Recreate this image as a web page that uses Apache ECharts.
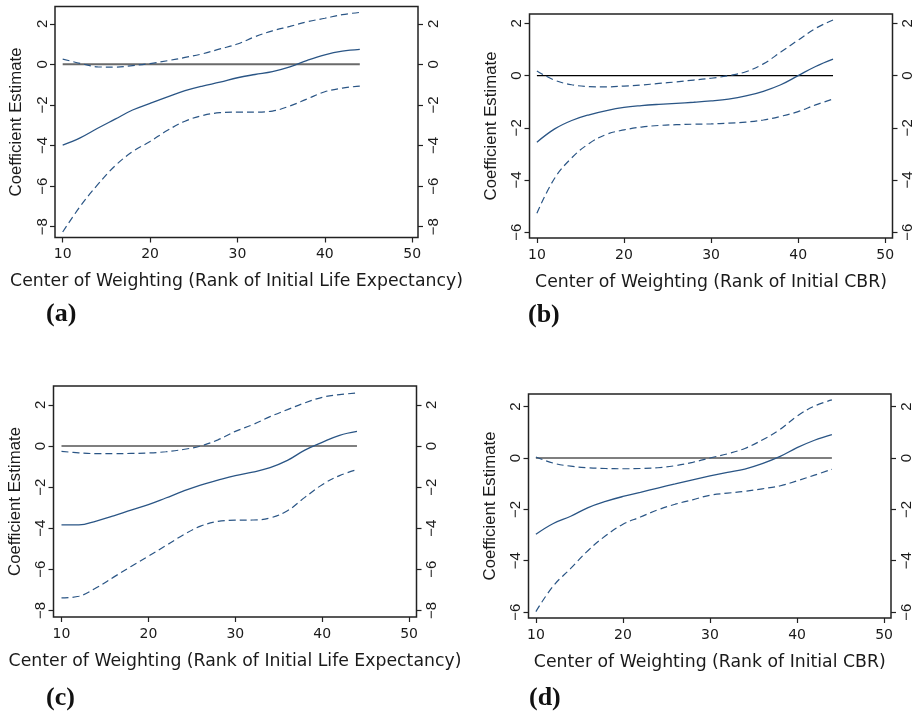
<!DOCTYPE html>
<html><head><meta charset="utf-8">
<script src="https://cdn.jsdelivr.net/npm/echarts@6/dist/echarts.min.js"></script>
<style>html,body{margin:0;padding:0;background:#fff}#c{width:917px;height:714px}</style>
</head><body><div id="c"></div>
<script>
// ---- data ----
const xs = [10,12,14,16,18,20,22,24,26,28,30,32,34,36,38,40,42,44];

const aEst   = [-3.98,-3.62,-3.15,-2.70,-2.25,-1.92,-1.60,-1.30,-1.07,-0.88,-0.66,-0.50,-0.36,-0.13,0.20,0.47,0.65,0.74];
const aUpper = [0.26,0.05,-0.12,-0.14,-0.06,0.04,0.18,0.34,0.52,0.76,1.00,1.36,1.65,1.87,2.10,2.27,2.45,2.56];
const aLower = [-8.26,-7.00,-5.93,-5.00,-4.30,-3.80,-3.25,-2.80,-2.52,-2.38,-2.35,-2.35,-2.30,-2.05,-1.70,-1.35,-1.17,-1.07];

const bEst   = [-2.55,-2.05,-1.72,-1.50,-1.34,-1.22,-1.15,-1.10,-1.06,-1.02,-0.97,-0.90,-0.78,-0.60,-0.35,0.00,0.35,0.63];
const bUpper = [0.18,-0.17,-0.35,-0.42,-0.43,-0.40,-0.36,-0.30,-0.24,-0.17,-0.10,0.00,0.15,0.45,0.90,1.36,1.81,2.13];
const bLower = [-5.27,-3.95,-3.15,-2.60,-2.25,-2.08,-1.97,-1.91,-1.88,-1.86,-1.85,-1.82,-1.78,-1.70,-1.56,-1.38,-1.12,-0.90];

const cEst   = [-3.84,-3.84,-3.65,-3.40,-3.12,-2.85,-2.53,-2.20,-1.90,-1.66,-1.44,-1.27,-1.05,-0.70,-0.20,0.18,0.52,0.71];
const cUpper = [-0.26,-0.33,-0.37,-0.37,-0.36,-0.34,-0.28,-0.17,0.00,0.30,0.71,1.04,1.43,1.77,2.10,2.37,2.50,2.58];
const cLower = [-7.39,-7.31,-6.90,-6.38,-5.86,-5.36,-4.85,-4.33,-3.90,-3.67,-3.61,-3.60,-3.50,-3.15,-2.50,-1.88,-1.44,-1.15];

const dEst   = [-2.97,-2.55,-2.27,-1.93,-1.69,-1.50,-1.34,-1.17,-1.01,-0.85,-0.70,-0.56,-0.43,-0.22,0.05,0.40,0.69,0.91];
const dUpper = [0.04,-0.20,-0.32,-0.38,-0.41,-0.42,-0.41,-0.38,-0.30,-0.17,0.00,0.16,0.37,0.70,1.10,1.63,2.02,2.26];
const dLower = [-5.98,-4.98,-4.30,-3.60,-3.03,-2.58,-2.30,-2.02,-1.80,-1.63,-1.45,-1.37,-1.30,-1.20,-1.09,-0.89,-0.67,-0.44];

const zeroX = [10, 44];
const xTicks = [10,20,30,40,50];
const yTicksLE = [-8,-6,-4,-2,0,2];
const yTicksCBR = [-6,-4,-2,0,2];
const xTitleLE = 'Center of Weighting (Rank of Initial Life Expectancy)';
const xTitleCBR = 'Center of Weighting (Rank of Initial CBR)';
const yTitle = 'Coefficient Estimate';
const panelLabels = ['(a)','(b)','(c)','(d)'];

// ---- layout / style ----
const panels = [
  {est:aEst, up:aUpper, lo:aLower, yTicks:yTicksLE, xTitle:xTitleLE, grid:{left:55, top:6.5, width:363, height:231}, xMin:9.12, xMax:50.66, yMin:-8.53, yMax:2.85, zeroColor:'#6a6a6a', zeroW:2, lab:{x:46,y:301}},
  {est:bEst, up:bUpper, lo:bLower, yTicks:yTicksCBR, xTitle:xTitleCBR, grid:{left:529.5, top:14, width:363, height:224}, xMin:9.15, xMax:50.83, yMin:-6.22, yMax:2.36, zeroColor:'#000', zeroW:1.1, lab:{x:528,y:302}},
  {est:cEst, up:cUpper, lo:cLower, yTicks:yTicksLE, xTitle:xTitleLE, grid:{left:53.5, top:386, width:363, height:231}, xMin:9.08, xMax:50.85, yMin:-8.32, yMax:2.92, zeroColor:'#000', zeroW:1.1, lab:{x:46,y:685}},
  {est:dEst, up:dUpper, lo:dLower, yTicks:yTicksCBR, xTitle:xTitleCBR, grid:{left:528.5, top:394, width:362.5, height:224}, xMin:9.15, xMax:50.79, yMin:-6.23, yMax:2.49, zeroColor:'#000', zeroW:1.1, lab:{x:529,y:685}}
];
const lineColor = '#2a5585';
const txt = '#1a1a1a';
const sans = 'Liberation Sans, Arial, sans-serif';
const wide = 'DejaVu Sans, Verdana, sans-serif';

const grids = [], xAxes = [], yAxes = [], series = [], titles = [];
panels.forEach((p, i) => {
  grids.push(Object.assign({show:true, borderColor:'#222', borderWidth:1.5, backgroundColor:'#fff'}, p.grid));
  xAxes.push({
    type:'value', gridIndex:i, min:p.xMin, max:p.xMax,
    name:p.xTitle, nameLocation:'middle', nameGap:36,
    nameTextStyle:{fontFamily:wide, fontSize:17.3, color:txt},
    axisLine:{show:false, onZero:false}, splitLine:{show:false},
    axisTick:{show:true, length:5, customValues:xTicks, lineStyle:{color:'#222', width:1.2}},
    axisLabel:{customValues:xTicks, margin:10, fontFamily:wide, fontSize:14, color:txt}
  });
  const yBase = {
    type:'value', gridIndex:i, min:p.yMin, max:p.yMax,
    axisLine:{show:false, onZero:false}, splitLine:{show:false},
    axisTick:{show:true, length:5, customValues:p.yTicks, lineStyle:{color:'#222', width:1.2}},
    axisLabel:{customValues:p.yTicks, rotate:90, margin:8, fontFamily:sans, fontSize:15, color:txt,
      formatter: v => (v < 0 ? '\u2212' + Math.abs(v) : String(v))}
  };
  const left = Object.assign({}, yBase, {position:'left', name:yTitle, nameLocation:'middle', nameGap:30, nameRotate:90,
    nameTextStyle:{fontFamily:sans, fontSize:16.8, color:txt}});
  left.axisLabel = Object.assign({}, yBase.axisLabel, {margin:5});
  yAxes.push(left);
  yAxes.push(Object.assign({}, yBase, {position:'right'}));
  const yi = i*2;
  series.push({type:'line', xAxisIndex:i, yAxisIndex:yi, data:zeroX.map(x=>[x,0]), showSymbol:false, silent:true,
    lineStyle:{color:p.zeroColor, width:p.zeroW}, z:2});
  series.push({type:'line', xAxisIndex:i, yAxisIndex:yi, data:xs.map((x,k)=>[x,p.est[k]]), smooth:0.4, showSymbol:false,
    lineStyle:{color:lineColor, width:1.3}, z:3});
  series.push({type:'line', xAxisIndex:i, yAxisIndex:yi, data:xs.map((x,k)=>[x,p.up[k]]), smooth:0.4, showSymbol:false,
    lineStyle:{color:lineColor, width:1.2, type:[7,4]}, z:3});
  series.push({type:'line', xAxisIndex:i, yAxisIndex:yi, data:xs.map((x,k)=>[x,p.lo[k]]), smooth:0.4, showSymbol:false,
    lineStyle:{color:lineColor, width:1.2, type:[7,4]}, z:3});
  titles.push({text:panelLabels[i], left:p.lab.x, top:p.lab.y, padding:0,
    textStyle:{fontFamily:'Liberation Serif, Times New Roman, serif', fontWeight:'bold', fontSize:26, color:'#111'}});
});

const chart = echarts.init(document.getElementById('c'), null, {renderer:'canvas'});
chart.setOption({
  animation:false, backgroundColor:'#fff',
  title:titles, grid:grids, xAxis:xAxes, yAxis:yAxes, series:series
});
</script></body></html>
